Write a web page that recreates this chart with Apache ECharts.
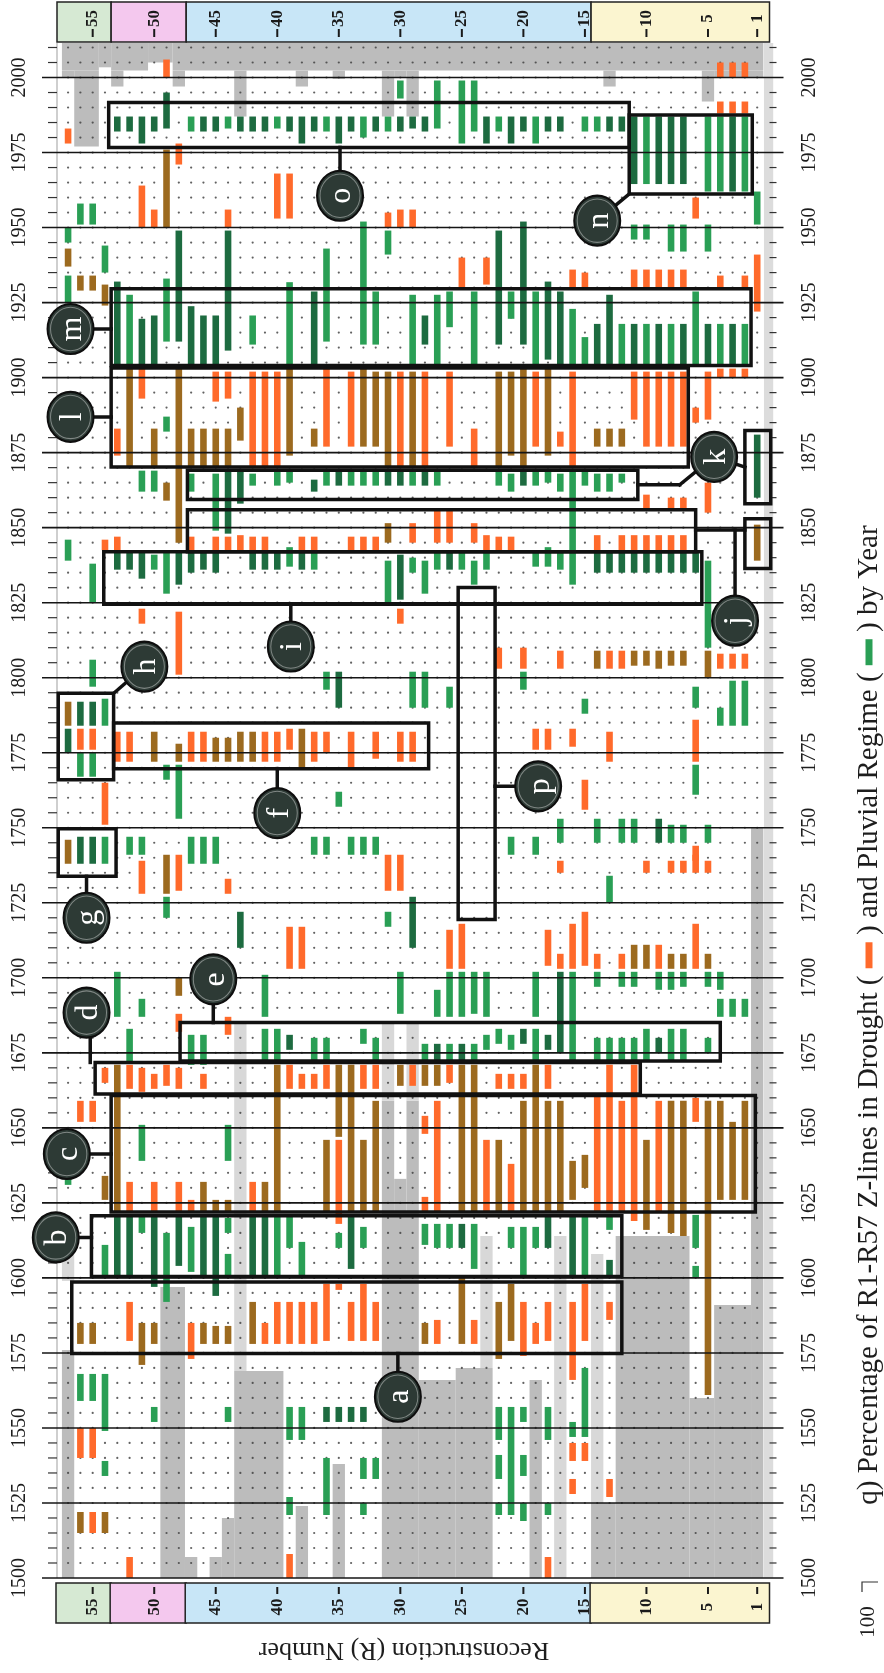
<!DOCTYPE html>
<html>
<head>
<meta charset="utf-8">
<script src="https://cdn.jsdelivr.net/npm/echarts@6/dist/echarts.min.js"></script>
<style>
html,body{margin:0;padding:0;background:#fff;}
#chart{width:884px;height:1673px;}
</style>
</head>
<body>
<div id="chart"></div>
<script>
// Year axis (vertical) and reconstruction-number axis (horizontal, R57 on the left)
const yearTicks = [1500,1525,1550,1575,1600,1625,1650,1675,1700,1725,1750,1775,1800,1825,1850,1875,1900,1925,1950,1975,2000];
const headerTicks = [55,50,45,40,35,30,25,20,15,10,5,1];
const headerTickText = ['55','50','45','40','35','30','25','20','15','10','5','1'];
// Regional groups of reconstructions: [R left edge, R right edge]
const headerBands = [[57.9,53.5],[53.5,47.4],[47.4,14.5],[14.5,0]];
const headerBandColors = ['#d6e9d3','#f4c8ee','#c8e6f7','#fbf5d0'];
const R_MAX = 57.9, YEAR_MIN = 1500, YEAR_MAX = 2011.5;
const reconNumbers = [];
for (let r = 1; r <= 57; r++) reconNumbers.push(r);

// Years without reconstruction coverage: [R from, R to, start year, end year]
const grayDark = [
  [57,57,1500,1576],[49,48,1500,1597],[47,47,1500,1507],[45,45,1500,1507],[44,44,1500,1520],
  [43,40,1500,1569],[38,38,1500,1524],[35,35,1500,1538],[31,29,1500,1622],[31,31,1622,1659],
  [29,29,1622,1659],[30,30,1622,1633],[28,26,1500,1566],[25,23,1500,1570],[19,19,1500,1566],
  [14,13,1500,1525],[12,7,1500,1614],[6,5,1500,1560],[4,2,1500,1591],[1,1,1500,1750],
  [57,55,2002.3,2011.5],[54,54,2003.4,2011.5],[53,51,2002.3,2011.5],[50,49,2005,2011.5],[48,1,2002.3,2011.5],
  [57,57,2000,2002.3],[56,55,1977,2002.3],[53,53,1997,2002.3],[48,48,1997,2002.3],[43,43,1987,2002.3],
  [38,38,1997,2002.3],[35,35,1999.5,2002.3],[31,31,1987,2002.3],[29,29,1987,2002.3],[30,30,2000,2002.3],
  [13,13,1997,2002.3],[5,5,1992,2002.3],[4,1,2000,2002.3]
];
const grayLight = [
  [43,43,1569,1685],[31,31,1659,1685],[29,29,1659,1685],[57,57,1599,1612],
  [23,23,1570,1614],[17,17,1500,1614],[14,14,1525,1608]
];

// Drought regime Z-line runs: [R, start year, end year]
const droughtOrange = [
  [57,1978,1983],[49,2000,2006],[4,2000,2005],[3,2000,2005],[2,2000,2005],
  [4,1988,1992],[3,1988,1992],[2,1988,1992],[48,1971,1978],
  [51,1950,1964],[50,1950,1956],[44,1950,1956],[40,1953,1968],[39,1953,1968],
  [31,1950,1955],[30,1950,1956],[29,1950,1956],[6,1953,1960],
  [25,1930,1940],[23,1931,1940],[16,1930,1936],[15,1930,1935],[11,1930,1936],[10,1930,1936],
  [9,1930,1936],[8,1930,1936],[7,1930,1936],[4,1930,1934],[2,1930,1934],[1,1922,1941],
  [53,1874,1883],[51,1893,1903],[45,1892,1902],[44,1893,1902],[42,1870,1902],[41,1870,1902],
  [40,1870,1902],[36,1877,1903],[34,1877,1902],[30,1870,1902],[28,1870,1902],[26,1877,1902],
  [24,1870,1883],[19,1877,1902],[17,1877,1882],[16,1870,1902],[11,1886,1902],[10,1877,1902],
  [9,1877,1902],[8,1877,1902],[7,1877,1902],[6,1885,1890],[5,1886,1902],[4,1900,1903],
  [3,1900,1903],[2,1900,1903],
  [10,1856,1861],[8,1856,1860],[7,1856,1860],[5,1855,1865],
  [54,1842.5,1846],[53,1842.5,1847],[47,1842.5,1847],[45,1842.5,1847],[44,1842.5,1847],
  [43,1842.5,1847.5],[42,1842.5,1847],[41,1842.5,1847],[38,1842.5,1847],[37,1842.5,1847],
  [34,1842.5,1847],[33,1842.5,1847],[32,1842.5,1847],[29,1845,1851.5],[27,1845,1856],
  [26,1845,1856],[24,1845,1851.5],[23,1842.5,1847.5],[22,1842.5,1847],[21,1842.5,1847],
  [14,1842.5,1847.5],[12,1842.5,1847.5],[11,1842.5,1847.5],[10,1842.5,1847.5],[9,1842.5,1847.5],
  [8,1842.5,1847.5],[7,1842.5,1847.5],
  [51,1818,1823],[48,1801,1822],[30,1818,1823],[22,1803,1810],[20,1803,1810],[17,1803,1809],
  [13,1803,1809],[12,1803,1809],[4,1803,1808],[3,1803,1808],[2,1803,1808],
  [56,1776,1783],[55,1776,1783],
  [53,1772,1782],[52,1772,1782],[47,1772,1782],[46,1772,1782],[41,1772,1782],[40,1772,1782],
  [39,1776,1783],[37,1772,1782],[36,1775,1782],[34,1770,1782],[32,1773,1782],[30,1772,1782],
  [29,1772,1782],
  [54,1751,1765],[19,1776,1783],[18,1776,1783],[16,1777,1783],[13,1772,1782],[6,1772,1786],
  [15,1756,1766],[6,1739,1744],
  [51,1728,1739],[48,1729,1741],[44,1728,1733],[31,1729,1741],[30,1729,1741],[17,1735,1739],
  [10,1735,1739],[8,1735,1739],[7,1735,1739],[6,1735,1741],[5,1735,1739],
  [39,1703,1717],[38,1703,1717],[26,1703,1716],[25,1703,1718],[18,1704,1716],[17,1703,1708],
  [16,1703,1718],[15,1704,1722],[14,1703,1708],[12,1703,1708],[9,1703,1711],[6,1703,1718],
  [48,1682,1688],[44,1681,1687],
  [54,1665,1670],[52,1663,1671],[51,1662,1670],[50,1663,1668],[49,1664,1671],[48,1663,1670],
  [46,1663,1668],[39,1663,1671],[38,1663,1668],[37,1663,1668],[36,1663,1671],[33,1663,1671],
  [32,1663,1671],[29,1664,1671],[26,1665,1671],[22,1663,1668],[21,1663,1668],[20,1663,1668],
  [18,1663,1671],[13,1622,1671],[11,1619,1671],
  [56,1652,1659],[55,1652,1659],[52,1622,1632],[50,1622,1632],[48,1622,1632],[47,1622,1626],
  [42,1622,1632],[35,1618,1646],[28,1648,1654],[28,1622,1627],[27,1622,1659],[23,1622,1646],
  [21,1622,1638],[14,1622,1661],[12,1622,1659],[9,1622,1659],[6,1652,1660],
  [52,1579,1592],[47,1573,1585],[41,1578,1585],[40,1578,1592],[39,1578,1592],[38,1578,1592],
  [37,1578,1592],[36,1579,1598],[35,1596,1598],[34,1579,1592],[33,1579,1598],[32,1579,1592],
  [27,1578,1586],[24,1578,1586],[20,1574,1592],[19,1578,1585],[18,1579,1592],[16,1566,1592],
  [15,1579,1598],[13,1586,1592],
  [56,1540,1550],[55,1540,1550],[16,1539,1545],[15,1539,1545],[16,1528,1533],[13,1527,1533],
  [55,1515,1522],[52,1500,1507],[39,1500,1508],[18,1500,1507]
];
const droughtBrown = [
  [49,1950,1976],
  [57,1937,1943],[56,1929,1934],[55,1929,1934],[54,1924,1931],
  [52,1870,1903],[50,1870,1883],[48,1845,1903],[47,1870,1883],[46,1870,1883],[45,1870,1883],
  [44,1870,1883],[43,1879,1890],[39,1874,1903],[37,1877,1883],[33,1877,1903],[32,1877,1902],
  [31,1870,1902],[29,1870,1902],[22,1870,1902],[21,1874,1902],[20,1870,1903],[18,1874,1903],
  [14,1877,1883],[13,1877,1883],[12,1877,1883],
  [49,1859,1865],[31,1845,1851.5],[1,1839,1851],
  [14,1803,1809],[11,1804,1809],[10,1804,1809],[9,1803,1809],[8,1804,1809],[7,1804,1809],[5,1800,1809],
  [57,1784,1792],
  [50,1772,1782],[48,1772,1778],[45,1772,1780],[44,1772,1780],[43,1772,1782],[42,1772,1782],[38,1770,1783],
  [57,1738,1746],
  [49,1728,1741],[11,1703,1711],[10,1703,1711],[8,1703,1708],[7,1703,1708],[5,1703,1708],
  [48,1694,1700],
  [53,1622,1671],[40,1622,1671],[35,1647,1671],[34,1622,1671],[30,1664,1671],[28,1664,1671],
  [27,1664,1671],[25,1622,1671],[24,1622,1671],[19,1622,1671],
  [54,1626,1634],[46,1622,1632],[45,1622,1626],[44,1622,1626],[41,1622,1632],[36,1622,1646],
  [33,1622,1646],[32,1622,1659],[22,1622,1646],[20,1622,1659],[18,1622,1659],[17,1622,1659],
  [16,1626,1639],[15,1630,1641],[10,1616,1646],[8,1615,1659],[7,1614,1659],[5,1561,1659],
  [4,1626,1659],[3,1626,1652],[2,1626,1659],
  [56,1578,1585],[55,1578,1585],[51,1571,1585],[50,1578,1585],[46,1578,1585],[45,1578,1584],
  [44,1578,1584],[42,1578,1592],[28,1578,1585],[25,1578,1600],[22,1573,1592],[21,1579,1598],
  [56,1515,1522],[54,1515,1522]
];

// Pluvial regime Z-line runs: [R, start year, end year]
const pluvialGreen = [
  [30,1993,1999],[27,1983,1999],[25,1978,1999],[24,1982,1999],
  [47,1982,1987],[44,1983,1987],[40,1983,1987],[36,1982,1987],[33,1980,1987],[31,1982,1987],
  [22,1982,1987],[19,1978,1987],[15,1982,1987],[14,1982,1987],
  [10,1964.5,1987],[5,1962,1987],[4,1962,1987],[2,1962,1987],
  [56,1951,1958],[55,1951,1958],[1,1951,1962],
  [57,1945,1950],[57,1925,1934],[54,1935,1944],[49,1912,1933],[36,1912,1943],[33,1911,1952],
  [31,1941,1949],[11,1946,1951],[10,1946,1951],[8,1942,1951],[7,1942,1951],[5,1942,1951],
  [52,1904.5,1927.6],[42,1911,1920.7],[39,1904.5,1931.8],[32,1911,1928.7],[29,1904.5,1927.6],
  [27,1904.5,1927.6],[26,1916.8,1928.7],[24,1904.5,1928.7],[21,1919.6,1928.7],[19,1904.5,1928.7],
  [16,1904.5,1922.9],[15,1904.5,1913.5],[12,1904.5,1917.9],[10,1904.5,1917.9],[8,1904.5,1917.9],
  [6,1904.5,1928.7],[4,1904.5,1917.9],[2,1904.5,1917.9],
  [49,1882,1887],
  [51,1862,1869],[50,1862,1869],[47,1862,1868],[45,1849,1868],[42,1864,1868],[40,1864,1869],
  [39,1865,1869],[36,1864,1869],[34,1864,1869],[33,1864,1869],[32,1864,1869],[29,1864,1869],
  [27,1864,1869],[22,1864,1869],[21,1862,1868],[19,1864,1869],[18,1865,1869],[17,1862,1868],
  [16,1831,1869],[15,1864,1869],[14,1862,1868],[13,1862,1868],[12,1865,1868],
  [50,1836,1841],[49,1828,1842],[39,1837,1843.5],[37,1836,1842],[31,1825,1839],[29,1835,1840],
  [28,1828,1839],[27,1836,1842],[25,1836,1842],[24,1831,1839],[23,1836,1842],[19,1837,1842],
  [18,1837,1843.5],[17,1836,1842],[5,1810,1839],[57,1839,1846],[55,1825,1838],
  [55,1797,1806],[36,1796,1802],[29,1790,1802],[28,1790,1802],[26,1790,1797],[20,1796,1802],
  [15,1788,1793],[6,1790,1797],[4,1784,1790],[3,1784,1799],[2,1784,1799],
  [56,1767,1775],[55,1767,1775],[54,1784,1793],
  [49,1766,1771],[48,1753,1771],[35,1757,1762],[6,1761,1771],[17,1745,1753],[14,1745,1753],
  [12,1745,1753],[11,1745,1753],[8,1745,1751],[7,1745,1751],[5,1745,1751],[21,1741,1747],[19,1741,1747],
  [54,1738,1747],[52,1741,1747],[51,1741,1747],[47,1738,1747],[46,1738,1747],[45,1738,1747],
  [37,1741,1747],[36,1741,1747],[34,1741,1747],[33,1741,1747],[32,1741,1747],
  [49,1720,1727],[13,1725,1734],[31,1717,1722],
  [53,1687,1702],[51,1687,1693],[41,1687,1701],[30,1688,1702],[27,1687,1696],[26,1687,1702],
  [25,1687,1702],[24,1688,1702],[23,1687,1702],[19,1687,1702],[16,1672,1702],[14,1697,1702],
  [12,1697,1702],[11,1697,1702],[9,1696,1702],[8,1696,1702],[7,1697,1702],[5,1697,1702],
  [4,1696,1702],[4,1687,1693],[3,1687,1693],[2,1687,1693],
  [52,1672,1683],[47,1671,1681],[46,1671,1681],[41,1672,1683],[40,1672,1683],[37,1672,1680],
  [36,1672,1680],[33,1678,1683],[32,1672,1680],[28,1672,1678],[26,1672,1678],[24,1672,1678],
  [23,1676,1681],[22,1678,1683],[21,1676,1681],[19,1672,1683],[14,1672,1680],[13,1672,1680],
  [12,1672,1680],[11,1672,1680],[10,1672,1683],[8,1672,1683],[7,1672,1683],[5,1675,1680],
  [57,1631,1634],[51,1639,1651],[44,1639,1651],
  [54,1600,1611],[51,1615,1621],[49,1592,1615],[47,1602,1617],[44,1615,1620],[44,1600,1608],
  [40,1600,1621],[39,1610,1621],[38,1600,1612],[35,1610,1615],[33,1610,1617],[28,1611,1618],
  [27,1610,1618],[26,1610,1618],[24,1603,1618],[21,1610,1617],[20,1600,1617],[19,1610,1617],
  [15,1600,1621],[13,1616,1621],[6,1610,1621],[6,1600,1604],
  [56,1559,1568],[55,1559,1568],[54,1549,1568],[50,1552,1557],[44,1552,1557],[39,1546,1557],
  [38,1546,1557],[22,1546,1557],[21,1521,1557],[20,1552,1557],[18,1546,1557],[16,1547,1552],
  [15,1547,1570],[54,1534,1539],[36,1521,1540],[33,1533,1540],[32,1533,1540],[22,1533,1541],
  [20,1534,1541],[39,1521,1527],[33,1521,1525],[22,1521,1525],[20,1519,1525],[18,1521,1525]
];
const pluvialDark = [
  [53,1982,1987],[52,1982,1987],[51,1978,1987],[50,1982,1987],[49,1983,1995],[46,1982,1987],
  [45,1982,1987],[43,1982,1987],[42,1982,1987],[41,1982,1987],[39,1982,1987],[38,1978,1987],
  [37,1982,1987],[35,1978,1987],[34,1982,1987],[32,1982,1987],[30,1982,1987],[29,1983,1987],
  [28,1982,1987],[23,1978,1987],[21,1978,1987],[20,1982,1987],[18,1982,1987],[17,1982,1987],
  [13,1982,1987],[12,1982,1987],
  [11,1964.5,1987],[9,1964.5,1987],[8,1964.5,1987],[7,1964.5,1987],[3,1962,1987],
  [48,1912,1949],[44,1909,1949],[22,1911,1949],[20,1911,1952],[18,1906,1932],
  [53,1904.5,1932],[51,1904.5,1919.6],[50,1904.5,1920.7],[47,1904.5,1923.8],[46,1904.5,1920.7],
  [45,1904.5,1920.7],[37,1904.5,1928.7],[28,1911,1920.7],[17,1904.5,1928.7],[14,1904.5,1917.9],
  [13,1904.5,1927.6],[11,1904.5,1917.9],[9,1904.5,1917.9],[7,1904.5,1917.9],[5,1904.5,1917.9],
  [3,1904.5,1917.9],
  [44,1848,1869],[43,1858,1869],[37,1862,1866],[35,1864,1869],[31,1864,1869],[30,1864,1869],
  [28,1864,1869],[20,1864,1869],[1,1860,1881],
  [53,1836,1842],[52,1836,1842],[51,1833,1842],[48,1831,1842],[47,1835,1842],[46,1836,1842],
  [45,1835,1842],[42,1836,1842],[41,1836,1842],[40,1836,1842],[38,1836,1842],[30,1826,1841],
  [26,1836,1842],[14,1835,1842],[13,1835,1842],[12,1835,1842],[11,1835,1842],[10,1835,1842],
  [9,1835,1842],[8,1835,1842],[7,1835,1842],[6,1835,1842],
  [35,1790,1802],
  [57,1775,1783],[56,1784,1792],[55,1784,1792],[9,1745,1753],
  [56,1738,1747],[55,1738,1747],
  [43,1710,1722],[29,1710,1727],[17,1675,1702],
  [39,1676,1681],[27,1672,1678],[25,1672,1678],[20,1678,1683],[18,1676,1681],[9,1675,1680],
  [53,1600,1621],[52,1600,1621],[50,1597,1621],[48,1604,1621],[46,1600,1621],[45,1594,1621],
  [42,1600,1621],[41,1600,1621],[34,1603,1621],[25,1610,1618],[18,1610,1621],[16,1600,1621],
  [13,1600,1606],
  [36,1552,1557],[35,1552,1557],[34,1552,1557],[33,1552,1557]
];

// Outlined regime episodes a–p: [R left, R right, start year, end year]
const episodeBoxes = [
  [56.7,12.0,1574.8,1598.6],[55.1,12.0,1600.5,1620.7],[53.5,1.15,1622.0,1660.8],
  [54.8,10.5,1661.3,1671.8],[47.9,4.0,1672.3,1685.1],[53.3,27.7,1769.7,1784.9],
  [57.8,53.1,1733.8,1749.7],[57.8,53.3,1766.0,1794.8],[54.1,5.5,1824.5,1842.0],
  [47.3,6.0,1842.0,1856.0],[2.0,-0.1,1836.4,1853.0],[47.3,10.7,1859.4,1869.1],
  [2.0,-0.1,1858.0,1882.4],[53.5,6.6,1870.2,1903.2],[53.5,1.5,1904.0,1929.6],
  [11.4,1.4,1961.2,1987.5],[53.7,11.4,1976.7,1991.7],[25.3,22.3,1719.4,1830.1]
];
// Episode markers: [R, year] and their letters
const episodeMarks = [
  [30.2,1560.4],[58.0,1613.5],[57.1,1641.3],[55.5,1688.4],[45.2,1699.5],[40.0,1754.9],
  [55.5,1720.0],[50.8,1803.7],[38.9,1810.4],[2.8,1819.0],[4.5,1873.6],[56.8,1886.9],
  [56.8,1916.2],[14.0,1952.3],[34.9,1960.6],[18.8,1763.8]
];
const episodeLetters = ['a','b','c','d','e','f','g','h','i','j','k','l','m','n','o','p'];
// Leader lines from markers to their boxes: [R1, year1, R2, year2]
const leaderLines = [
  [30.2,1560.4,30.2,1574.8],[58.0,1613.5,55.1,1613.5],[57.1,1641.3,53.5,1641.3],
  [55.2,1688.4,55.2,1671.8],[45.2,1699.5,45.2,1685.1],[40.0,1754.9,40.0,1769.7],
  [55.5,1720.0,55.5,1733.8],[50.8,1803.7,53.3,1794.8],[38.9,1810.4,38.9,1824.5],
  [2.8,1819.0,2.8,1849.2],[6.0,1849.2,2.0,1849.2],[10.7,1864.3,7.3,1864.3],
  [7.3,1864.3,4.5,1873.6],[4.5,1873.6,2.0,1870.2],[56.8,1886.9,53.5,1886.9],
  [56.8,1916.2,53.5,1916.2],[14.0,1952.3,11.4,1961.2],[34.9,1960.6,34.9,1976.7],
  [18.8,1763.8,22.3,1763.8]
];

const minorYears = [];
for (let y = 1505; y <= 2010; y += 5) minorYears.push(y);
const dotPoints = [];
reconNumbers.forEach(r => minorYears.forEach(y => dotPoints.push([r, y])));

const chart = echarts.init(document.getElementById('chart'), null, {renderer: 'canvas'});

function runSeries(data, color) {
  return {
    type: 'custom', data: data, z: 4, clip: false,
    encode: {x: 0, y: [1, 2]},
    renderItem: function (params, api) {
      const r = api.value(0);
      const lo = api.coord([r, api.value(1)]);
      const hi = api.coord([r, api.value(2)]);
      return {type: 'rect', shape: {x: lo[0] - 3.3, y: hi[1], width: 6.6, height: lo[1] - hi[1]},
        style: {fill: color}};
    }
  };
}
function coverSeries(data, color) {
  return {
    type: 'custom', data: data, z: 1, clip: false,
    encode: {x: [0, 1], y: [2, 3]},
    renderItem: function (params, api) {
      const a = api.coord([Math.min(api.value(0) + 0.5, R_MAX), api.value(3)]);
      const b = api.coord([Math.max(api.value(1) - 0.5, 0), api.value(2)]);
      return {type: 'rect', shape: {x: a[0], y: a[1], width: b[0] - a[0], height: b[1] - a[1]},
        style: {fill: color}};
    }
  };
}

const serif = '"Liberation Serif", "DejaVu Serif", serif';
const yLabel = {rotate: 90, fontFamily: serif, fontSize: 20, color: '#1d1d1d', showMaxLabel: false,
  formatter: function (v) { return String(v); }};

const option = {
  animation: false,
  backgroundColor: '#ffffff',
  grid: {left: 57, top: 43, width: 712.5, height: 1535},
  xAxis: {type: 'value', min: 0, max: R_MAX, inverse: true, show: false},
  yAxis: [
    {type: 'value', min: YEAR_MIN, max: YEAR_MAX, interval: 25, position: 'left',
      axisLine: {show: false}, axisTick: {show: false}, splitLine: {show: false},
      axisLabel: Object.assign({margin: 27}, yLabel)},
    {type: 'value', min: YEAR_MIN, max: YEAR_MAX, interval: 25, position: 'right',
      axisLine: {show: false}, axisTick: {show: false}, splitLine: {show: false},
      axisLabel: Object.assign({margin: 30}, yLabel)}
  ],
  series: [
    coverSeries(grayDark, '#bcbcbc'),
    coverSeries(grayLight, '#d8d8d8'),
    {
      // light strip along the right margin
      type: 'custom', data: [[0.45, -0.3]], z: 1, clip: false,
      renderItem: function (params, api) {
        const a = api.coord([api.value(0), YEAR_MAX]);
        const b = api.coord([api.value(1), YEAR_MIN]);
        return {type: 'group', children: [
          {type: 'rect', shape: {x: a[0], y: a[1], width: b[0] - a[0], height: b[1] - a[1]}, style: {fill: '#dcdcdc'}},
          {type: 'line', shape: {x1: 57, y1: a[1], x2: 57, y2: b[1]}, style: {stroke: '#cfcfcf', lineWidth: 2}}
        ]};
      }
    },
    {
      type: 'scatter', data: dotPoints, symbolSize: 2.2, z: 2, silent: true,
      itemStyle: {color: '#3a3a3a'}
    },
    runSeries(droughtBrown, '#9c6a1f'),
    runSeries(droughtOrange, '#ff6a2b'),
    runSeries(pluvialGreen, '#2a9f55'),
    runSeries(pluvialDark, '#1d6b40'),
    {
      // 25-year rules and 5-year ticks
      type: 'custom', data: minorYears.concat([1500]).map(y => [0, y]), z: 5, clip: false,
      encode: {x: 0, y: 1},
      renderItem: function (params, api) {
        const y = api.value(1);
        const p = api.coord([R_MAX, y]);
        const q = api.coord([0, y]);
        if (y % 25 === 0) {
          return {type: 'line', shape: {x1: p[0] - 15, y1: p[1], x2: q[0] + 14, y2: p[1]},
            style: {stroke: '#151515', lineWidth: 1.6}};
        }
        return {type: 'group', children: [
          {type: 'line', shape: {x1: p[0] - 9, y1: p[1], x2: p[0], y2: p[1]}, style: {stroke: '#333', lineWidth: 1.2}},
          {type: 'line', shape: {x1: q[0], y1: q[1], x2: q[0] + 7, y2: q[1]}, style: {stroke: '#333', lineWidth: 1.2}}
        ]};
      }
    },
    {
      // group header bands above and below the plot
      type: 'custom', data: headerBands, z: 5, clip: false,
      encode: {x: [0, 1]},
      renderItem: function (params, api) {
        const a = api.coord([api.value(0), YEAR_MAX]);
        const b = api.coord([api.value(1), YEAR_MIN]);
        const fill = headerBandColors[params.dataIndex];
        return {type: 'group', children: [
          {type: 'rect', shape: {x: a[0], y: a[1] - 41, width: b[0] - a[0], height: 40},
            style: {fill: fill, stroke: '#222', lineWidth: 1.5}},
          {type: 'rect', shape: {x: a[0] - 1, y: b[1] + 5, width: b[0] - a[0] + 1, height: 40},
            style: {fill: fill, stroke: '#222', lineWidth: 1.5}}
        ]};
      }
    },
    {
      // R-number tick labels in the header bands
      type: 'custom', data: headerTicks.map(r => [r]), z: 6, clip: false,
      encode: {x: 0},
      renderItem: function (params, api) {
        const t = api.coord([api.value(0), YEAR_MAX]);
        const b = api.coord([api.value(0), YEAR_MIN]);
        const txt = headerTickText[params.dataIndex];
        const font = 'bold 17px ' + serif;
        return {type: 'group', children: [
          {type: 'text', x: t[0], y: t[1] - 24.5, rotation: Math.PI / 2,
            style: {text: txt, font: font, fill: '#1a1a1a', align: 'center', verticalAlign: 'middle'}},
          {type: 'line', shape: {x1: t[0], y1: t[1] - 14, x2: t[0], y2: t[1] - 6}, style: {stroke: '#1a1a1a', lineWidth: 2}},
          {type: 'text', x: b[0], y: b[1] + 29, rotation: Math.PI / 2,
            style: {text: txt, font: font, fill: '#1a1a1a', align: 'center', verticalAlign: 'middle'}},
          {type: 'line', shape: {x1: b[0], y1: b[1] + 9, x2: b[0], y2: b[1] + 16}, style: {stroke: '#1a1a1a', lineWidth: 2}}
        ]};
      }
    },
    {
      type: 'custom', data: episodeBoxes, z: 7, clip: false,
      encode: {x: [0, 1], y: [2, 3]},
      renderItem: function (params, api) {
        const a = api.coord([api.value(0), api.value(3)]);
        const b = api.coord([api.value(1), api.value(2)]);
        return {type: 'rect', shape: {x: a[0], y: a[1], width: b[0] - a[0], height: b[1] - a[1]},
          style: {fill: 'none', stroke: '#111', lineWidth: 3.5}};
      }
    },
    {
      type: 'custom', data: leaderLines, z: 7, clip: false,
      encode: {x: [0, 2], y: [1, 3]},
      renderItem: function (params, api) {
        const a = api.coord([api.value(0), api.value(1)]);
        const b = api.coord([api.value(2), api.value(3)]);
        return {type: 'line', shape: {x1: a[0], y1: a[1], x2: b[0], y2: b[1]},
          style: {stroke: '#111', lineWidth: 3.5, lineCap: 'square'}};
      }
    },
    {
      type: 'custom', data: episodeMarks, z: 8, clip: false,
      encode: {x: 0, y: 1},
      renderItem: function (params, api) {
        const c = api.coord([api.value(0), api.value(1)]);
        return {type: 'group', children: [
          {type: 'circle', x: c[0], y: c[1], scaleY: 25 / 23, shape: {cx: 0, cy: 0, r: 23},
            style: {fill: '#2d3a35', stroke: '#0e0e0e', lineWidth: 2}},
          {type: 'circle', x: c[0], y: c[1], scaleY: 25 / 23, shape: {cx: 0, cy: 0, r: 20},
            style: {fill: 'none', stroke: 'rgba(230,230,230,0.45)', lineWidth: 1}},
          {type: 'text', x: c[0] + 2, y: c[1], rotation: Math.PI / 2,
            style: {text: episodeLetters[params.dataIndex], font: '32px ' + serif, fill: '#ffffff',
              align: 'center', verticalAlign: 'middle'}}
        ]};
      }
    }
  ],
  graphic: [
    {
      type: 'text', x: 404, y: 1650, rotation: Math.PI,
      style: {text: 'Reconstruction (R) Number', font: '26px ' + serif, fill: '#1d1d1d',
        align: 'center', verticalAlign: 'middle'}
    },
    {
      type: 'text', x: 869, y: 1015, rotation: Math.PI / 2,
      style: {
        text: '{t|q) Percentage of R1-R57 Z-lines in Drought ( }{o| }{t| ) and Pluvial Regime ( }{g| }{t| ) by Year}',
        align: 'center', verticalAlign: 'middle',
        rich: {
          t: {font: '29px ' + serif, fill: '#1d1d1d'},
          o: {width: 26, height: 7, backgroundColor: '#ff6a2b', verticalAlign: 'middle'},
          g: {width: 26, height: 7, backgroundColor: '#2a9f55', verticalAlign: 'middle'}
        }
      }
    },
    {
      type: 'text', x: 868, y: 1622, rotation: Math.PI / 2,
      style: {text: '100', font: '21px ' + serif, fill: '#1d1d1d', align: 'center', verticalAlign: 'middle'}
    },
    {
      type: 'polyline', shape: {points: [[862, 1592], [862, 1582], [878, 1582]]},
      style: {stroke: '#333', lineWidth: 1.2, fill: 'none'}
    }
  ]
};
chart.setOption(option);
</script>
</body>
</html>
